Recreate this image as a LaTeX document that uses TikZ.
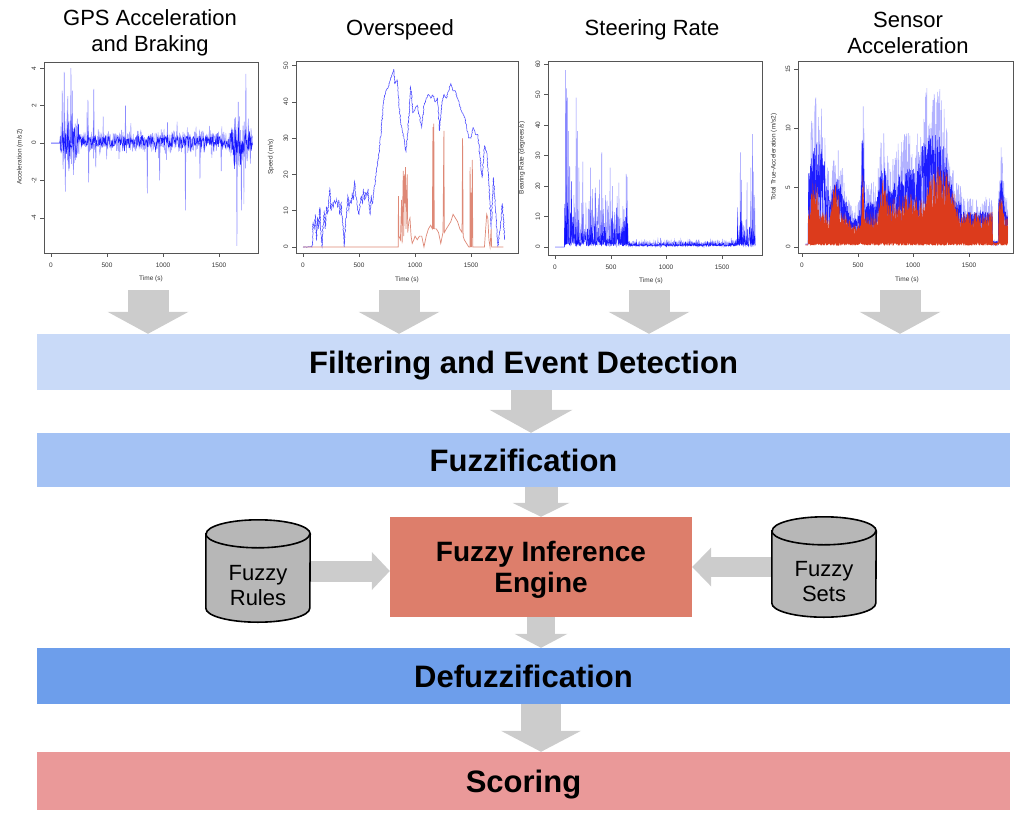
\documentclass[tikz,border=0pt]{standalone}
\usepackage{fontspec}
\setmainfont{Liberation Sans}
\usetikzlibrary{arrows.meta,decorations.pathmorphing,calc}
\definecolor{agray}{HTML}{CCCCCC}
\definecolor{cfilt}{HTML}{C9DAF8}
\definecolor{cfuzz}{HTML}{A4C2F4}
\definecolor{cdefuzz}{HTML}{6D9EEB}
\definecolor{cscore}{HTML}{EA9999}
\definecolor{ceng}{HTML}{DD7E6B}
\definecolor{ccyl}{HTML}{B7B7B7}
\definecolor{pblue}{HTML}{0000FF}
\definecolor{pred}{HTML}{DC3B1C}
\definecolor{ored}{HTML}{D8735E}
\definecolor{framec}{HTML}{555555}
\tikzset{
  fat/.style n args={3}{draw=agray, line width=#1, -{Triangle[length=#3,width=#2,line width=0pt]}},
  stagebox/.style={rectangle, inner sep=0pt, minimum width=973pt, text height=22pt, text depth=0pt, font=\fontsize{31}{36}\selectfont\bfseries},
  title/.style={align=center, font=\fontsize{22}{26}\selectfont},
  cylbox/.style={rectangle, inner sep=0pt, minimum width=104pt},
  cylline/.style={draw=black, line width=1.6pt, fill=ccyl},
  cyltext/.style={align=center, font=\fontsize{22}{25}\selectfont},
  pframe/.style={draw=framec, line width=0.8pt},
  ptick/.style={draw=framec, line width=0.6pt},
  ticklab/.style={inner sep=0pt, font=\fontsize{6.5}{7}\selectfont, text=black!80},
  axlab/.style={inner sep=0pt, font=\fontsize{6.5}{7}\selectfont, text=black!80},
}
\begin{document}
\begin{tikzpicture}[x=1pt, y=-1pt,
  declare function={
    bump(\t,\c,\w)=max(0,1-((\t-\c)/\w)*((\t-\c)/\w));
    gpsamp(\t)=0.9+1.4*bump(\t,160,110)+1.6*bump(\t,1690,110);
    gps(\t)=(\t>80)*(gpsamp(\t)*(0.55*rand+2.2*rand*rnd*rnd*rnd)+0.1);
    steer(\t)=(\t>85)*(0.4+0.8*rnd+((\t<660)*(34+25*bump(\t,110,45))+(\t>660)*(\t<1625)*3+(\t>1625)*26)*rnd*rnd*rnd);
    gapf(\t)=1-0.93*(\t>1712)*(\t<1765);
    envb(\t)=(\t>55)*gapf(\t)*(5+7*bump(\t,140,110)+3*bump(\t,320,60)+8*bump(\t,545,18)+4*bump(\t,730,60)+4*bump(\t,960,200)+8*bump(\t,1200,170)+4*bump(\t,1790,30)-2*bump(\t,470,70)-1.2*(\t>1430));
    envr(\t)=(\t>55)*gapf(\t)*(2.8+3*bump(\t,110,50)+2.5*bump(\t,300,50)+4*bump(\t,545,15)+2.5*bump(\t,730,50)+1.5*bump(\t,950,250)+4*bump(\t,1250,160)+2*bump(\t,1790,30)-1*bump(\t,470,70));
  }]
\pgfmathsetseed{11}
\useasboundingbox (0,0) rectangle (1024,819);

% ---------- titles ----------
\node[title] (t1) at (150,33) {GPS Acceleration\\and Braking};
\node[title] (t2) at (400,30) {Overspeed};
\node[title] (t3) at (652,30) {Steering Rate};
\node[title] (t4) at (908,33) {Sensor\\Acceleration};

% ---------- plot 1 ----------
\begin{scope}
  \clip (44,62) rectangle (258,253);
  \begin{scope}[shift={(51,143)}, x=0.112pt, y=18.7pt]
    \draw[pblue, opacity=0.35, line width=0.6pt] plot[domain=0:1800, samples=650] (\x,{gps(\x)});
    \draw[pblue, opacity=0.85, line width=0.5pt] plot[domain=0:1800, samples=500] (\x,{0.6*gps(\x)});
    \foreach \a/\b in {100/2.8,108/-1.4,118/3.8,128/-2.6,150/2.5,160/-1.5,178/4,190/2.8,200/-1.7,235/1.3,330/2.3,336/-2.1,382/2.9,400/-1.3,665/2,860/-2.7,970/-2,1040/1.1,1200/-3.6,1330/-1.9,1520/-1.5,1640/1.3,1660/-5.5,1672/2.2,1700/-3.6,1740/3.7,1762/1.3,1780/-1.1}{
      \draw[pblue, opacity=0.45, line width=0.55pt] (\a-4,0) -- (\a,\b) -- (\a+4,0);}
  \end{scope}
\end{scope}
\draw[pframe] (44,62) rectangle (258,253);
\foreach \v/\px [count=\i] in {0/51,500/107,1000/163,1500/219}{
  \draw[ptick] (\px,253) -- (\px,257);
  \node[ticklab] (p1x\i) at (\px,265) {\v};}
\foreach \v/\py [count=\i] in {4/68.2,2/105.6,0/143,-2/180.4,-4/217.8}{
  \draw[ptick] (44,\py) -- (40,\py);
  \node[ticklab, rotate=90] (p1y\i) at (34,\py) {\v};}
\node[axlab] (p1t) at (151,279) {Time (s)};
\node[axlab, rotate=90] (p1l) at (20,157) {Acceleration (m/s2)};

% ---------- plot 2 ----------
\begin{scope}[shift={(303,247)}, x=0.112pt, y=3.63pt]
  \draw[pblue, opacity=0.7, line width=0.55pt, decorate, decoration={random steps, segment length=1.2pt, amplitude=0.5pt}]
   plot coordinates {(0,0) (80,0) (85,1) (90,7) (100,5) (110,9) (120,2) (130,8) (140,5) (150,11) (160,4) (170,0) (180,6) (190,10) (200,5) (210,11) (220,9) (230,13) (240,16) (250,10) (260,12) (270,11) (280,13) (290,12) (300,13) (310,11) (320,13) (330,9) (340,12) (350,8) (360,4) (370,0) (380,7) (390,9) (400,14) (410,10) (420,13) (430,12) (440,15) (450,13) (460,18) (470,14) (480,13) (490,10) (500,9) (510,12) (520,14) (530,12) (540,16) (550,13) (560,15) (570,14) (580,16) (590,12) (600,9) (610,14) (620,12) (630,15) (640,17) (660,22) (680,26) (700,33) (720,40) (740,43) (760,44) (780,46) (800,48) (810,49) (820,45) (840,46) (860,38) (880,33) (900,30) (920,26) (930,30) (950,38) (960,44) (970,42) (980,37) (1000,38) (1020,39) (1040,36) (1060,33) (1080,39) (1100,41) (1120,42) (1140,41) (1160,42) (1180,40) (1200,41) (1220,32) (1240,40) (1260,42) (1280,41) (1300,43) (1320,45) (1340,43) (1360,43) (1380,41) (1400,39) (1420,37) (1440,36) (1460,33) (1480,30) (1500,30) (1520,33) (1540,31) (1560,31) (1580,25) (1600,19) (1620,28) (1640,26) (1660,18) (1680,5) (1700,19) (1720,10) (1740,0) (1760,5) (1780,12) (1790,8) (1800,2)};
  \draw[ored, opacity=0.85, line width=0.7pt]
   plot coordinates {(0,0) (850,0) (852,14) (856,3) (870,2) (880,13) (885,1) (895,21) (900,3) (905,20) (910,12) (915,22) (920,5) (930,20) (935,4) (945,7) (955,8) (965,3) (975,1) (990,2) (1000,3) (1020,2) (1040,3) (1060,3) (1080,0) (1100,3) (1120,5) (1140,6) (1155,5) (1160,33) (1163,5) (1168,34) (1172,5) (1190,5) (1210,4) (1230,1) (1250,4) (1258,32) (1262,4) (1280,5) (1300,6) (1320,7) (1340,9) (1360,8) (1380,7) (1400,5) (1420,4) (1425,30) (1430,3) (1440,2) (1460,1) (1480,0) (1490,0) (1492,22) (1496,0) (1500,15) (1505,0) (1512,24) (1516,0) (1540,0) (1620,0) (1640,9) (1650,8) (1660,2) (1670,0) (1680,5) (1684,0) (1790,0)};
\end{scope}
\draw[pframe] (296,61) rectangle (518,253);
\foreach \v/\px [count=\i] in {0/303,500/359,1000/415,1500/471}{
  \draw[ptick] (\px,253) -- (\px,257);
  \node[ticklab] (p2x\i) at (\px,265) {\v};}
\foreach \v/\py [count=\i] in {0/247,10/210.7,20/174.4,30/138.1,40/101.8,50/65.5}{
  \draw[ptick] (296,\py) -- (292,\py);
  \node[ticklab, rotate=90] (p2y\i) at (286,\py) {\v};}
\node[axlab] (p2t) at (407,280) {Time (s)};
\node[axlab, rotate=90] (p2l) at (271,157) {Speed (m/s)};

% ---------- plot 3 ----------
\begin{scope}
  \clip (548,61) rectangle (762,255);
  \begin{scope}[shift={(555,247)}, x=0.1113pt, y=3.05pt]
    \draw[pblue, opacity=0.4, line width=0.5pt] plot[domain=0:1800, samples=700] (\x,{steer(\x)});
    \draw[pblue, opacity=0.85, line width=0.45pt] plot[domain=0:1800, samples=800] (\x,{0.6*steer(\x)});
    \foreach \a/\b in {95/58,103/52,110/49,120/38,190/49,200/38,215/26,250/28,320/26,420/31,430/16,495/26,515/20,640/24,648/23,1640/13,1665/31,1675/22,1760/26,1775/37,1790/17}{
      \draw[pblue, opacity=0.45, line width=0.5pt] (\a-3,1) -- (\a,\b) -- (\a+3,1);}
  \end{scope}
\end{scope}
\draw[pframe] (548,61) rectangle (762,255);
\foreach \v/\px [count=\i] in {0/555,500/611,1000/666,1500/722}{
  \draw[ptick] (\px,255) -- (\px,259);
  \node[ticklab] (p3x\i) at (\px,267) {\v};}
\foreach \v/\py [count=\i] in {0/247,10/216.5,20/186,30/155.5,40/125,50/94.5,60/64}{
  \draw[ptick] (548,\py) -- (544,\py);
  \node[ticklab, rotate=90] (p3y\i) at (538,\py) {\v};}
\node[axlab] (p3t) at (651,281) {Time (s)};
\node[axlab, rotate=90] (p3l) at (522,158) {Bearing Rate (degrees/s)};

% ---------- plot 4 ----------
\begin{scope}
  \clip (798,61) rectangle (1013,253);
  \begin{scope}[shift={(802,247)}, x=0.1113pt, y=11.87pt]
    \draw[pblue, opacity=0.3, line width=0.55pt] plot[domain=30:1850, samples=900] (\x,{0.25+1.05*envb(\x)*rnd});
    \draw[pblue, opacity=0.85, line width=0.45pt] plot[domain=30:1850, samples=1100] (\x,{0.25+0.72*envb(\x)*sqrt(rnd)});
    \fill[pred] plot[domain=30:1850, samples=700] (\x,{0.2+envr(\x)*(0.45+0.55*rnd)}) -- plot[domain=1850:30, samples=400] (\x,{0.12+0.35*rnd*rnd}) -- cycle;
  \end{scope}
\end{scope}
\draw[pframe] (798,61) rectangle (1013,253);
\foreach \v/\px [count=\i] in {0/802,500/858,1000/913,1500/969}{
  \draw[ptick] (\px,253) -- (\px,257);
  \node[ticklab] (p4x\i) at (\px,265) {\v};}
\foreach \v/\py [count=\i] in {0/247,5/187.7,10/128.3,15/69}{
  \draw[ptick] (798,\py) -- (794,\py);
  \node[ticklab, rotate=90] (p4y\i) at (788,\py) {\v};}
\node[axlab] (p4t) at (907,280) {Time (s)};
\node[axlab, rotate=90] (p4l) at (774,157) {Total True-Acceleration (m/s2)};

% ---------- stage boxes ----------
\node[stagebox, fill=cfilt, minimum height=56pt] (filter) at (523.5,362) {Filtering and Event Detection};
\node[stagebox, fill=cfuzz, minimum height=54pt] (fuzz) at (523.5,460) {Fuzzification};
\node[rectangle, inner sep=0pt, fill=ceng, minimum width=302pt, minimum height=100pt] (engine) at (541,567) {};
\node[align=center, font=\fontsize{28}{31}\selectfont\bfseries] (enginetext) at ([yshift=-3pt]engine.center) {Fuzzy Inference\\Engine};
\node[stagebox, fill=cdefuzz, minimum height=56pt] (defuzz) at (523.5,676) {Defuzzification};
\node[stagebox, fill=cscore, minimum height=58pt] (scoring) at (523.5,781) {Scoring};

% ---------- cylinders ----------
\node[cylbox, minimum height=102pt] (rules) at (258,571) {};
\node[cylbox, minimum height=100pt] (sets) at (824,567) {};

% ---------- arrows ----------
\coordinate (a1) at (148,290);
\coordinate (a2) at (399,290);
\coordinate (a3) at (649,290);
\coordinate (a4) at (900,290);
\foreach \a in {a1,a2,a3,a4}{
  \draw[fat={41pt}{81pt}{22pt}] (\a) -- (\a |- filter.north);}
\draw[fat={41pt}{83pt}{23pt}] ([xshift=7.5pt]filter.south) -- ([xshift=7.5pt]fuzz.north);
\draw[fat={33pt}{57pt}{14pt}] (engine.north |- fuzz.south) -- (engine.north);
\draw[fat={28pt}{53pt}{14pt}] (engine.south) -- (engine.south |- defuzz.north);
\draw[fat={40pt}{80pt}{21pt}] (engine.south |- defuzz.south) -- (engine.south |- scoring.north);
\draw[fat={21pt}{38pt}{18pt}] (rules.east) -- (engine.west |- rules.east);
\draw[fat={20pt}{39pt}{19pt}] (sets.west) -- (engine.east |- sets.west);

% cylinder bodies
\foreach \c in {rules,sets}{
  \draw[cylline] ([yshift=-14pt]\c.north west) -- ([yshift=14pt]\c.south west)
     arc[start angle=180, end angle=360, x radius=52pt, y radius=14pt]
     -- ([yshift=-14pt]\c.north east)
     arc[start angle=0, end angle=180, x radius=52pt, y radius=14pt] -- cycle;
  \draw[draw=black, line width=1.6pt] ([yshift=-14pt]\c.north west)
     arc[start angle=180, end angle=360, x radius=52pt, y radius=14pt];}
\node[cyltext] (rulestext) at ([yshift=-14.5pt]rules.center) {Fuzzy\\Rules};
\node[cyltext] (setstext) at ([yshift=-14.5pt]sets.center) {Fuzzy\\Sets};
\end{tikzpicture}
\end{document}
